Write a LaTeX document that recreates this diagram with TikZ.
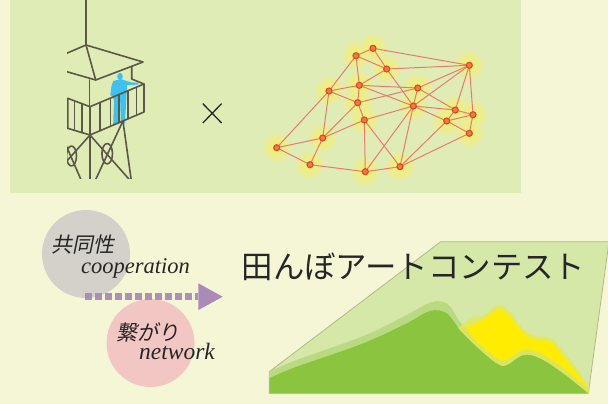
\documentclass[tikz,border=0pt]{standalone}
\usepackage{fontspec}
\setmainfont{Liberation Serif}
\newfontfamily\jpfont{Noto Sans CJK JP}
\newfontfamily\jpslant[FakeSlant=0.2]{Noto Sans CJK JP}
\usetikzlibrary{calc}

\definecolor{paper}{HTML}{F5F6D6}
\definecolor{panel}{HTML}{E0ECB6}
\definecolor{ink}{HTML}{5B5849}
\definecolor{watcher}{HTML}{3EC1EC}
\definecolor{glowc}{HTML}{E9EC98}
\definecolor{glowin}{HTML}{EDEE84}
\definecolor{linkc}{HTML}{E97B6E}
\definecolor{dotfill}{HTML}{F27F2F}
\definecolor{dotring}{HTML}{E0452A}
\definecolor{coopc}{HTML}{D4D1CB}
\definecolor{netc}{HTML}{F2C6C2}
\definecolor{flowc}{HTML}{A98BB6}
\definecolor{fieldc}{HTML}{D5E8A8}
\definecolor{fieldedge}{HTML}{B7B58E}
\definecolor{bandc}{HTML}{B9D983}
\definecolor{grassc}{HTML}{8BC53F}
\definecolor{riceyel}{HTML}{FFEC00}
\definecolor{halo}{HTML}{E6EA4E}
\definecolor{textc}{HTML}{262626}

\tikzset{
  towerline/.style={draw=ink, line width=1.6pt, line cap=round, line join=round},
  link/.style={draw=linkc, line width=1pt},
  hub/.style={circle, fill=dotfill, draw=dotring, line width=1.1pt, minimum size=6pt, inner sep=0pt},
  label/.style={anchor=base west, inner sep=0pt, text=textc},
}

\begin{document}
\begin{tikzpicture}[x=1pt,y=-1pt]
\useasboundingbox (0,0) rectangle (608,404);
\fill[paper] (0,0) rectangle (608,404);
\fill[panel] (10,0) rectangle (521,193);

% ---------------- watch tower ----------------
\begin{scope}
\clip (67,0) rectangle (170,178.5);
% person on the balcony
\fill[watcher] (120,76.5) ellipse (2.8pt and 3.6pt);
\fill[watcher] (119,79.5) -- (122,79.5) -- (126.5,81) -- (131,82.3) -- (138.3,82.8)
  -- (138.3,84.6) -- (130,85) -- (127,84.8) -- (126.3,99) -- (125,123.5)
  -- (120.8,123.5) -- (120.3,103) -- (118.8,103) -- (117.8,124) -- (113.2,124)
  -- (114,100) -- (112,96.5) -- (110.3,95) -- (111.5,86) -- (113.3,81) -- cycle;
% mast and roof
\draw[towerline] (86,0) -- (86,45);
\draw[towerline] (55,58.3) -- (86,45) -- (143,62) -- (95.7,80) -- (55,68.3);
\draw[towerline] (86,45) -- (95.7,80);
\draw[towerline] (89.3,80) -- (89.3,107);
\draw[towerline] (131.7,66.7) -- (131.7,79) -- (144,84);
% balcony corners
\coordinate (lt) at (67.7,98.3);
\coordinate (ft) at (90,106.7);
\coordinate (rt) at (144,84);
\coordinate (lb) at (67.7,128.3);
\coordinate (fb) at (90,135);
\coordinate (rb) at (144,112);
\draw[towerline] (lt) -- (ft) -- (rt) -- (rb) -- (fb) -- (lb) -- cycle;
\draw[towerline] (ft) -- (fb);
\foreach \t in {0.30,0.65}
  \draw[towerline] ($(lt)!\t!(ft)$) -- ($(lb)!\t!(fb)$);
\foreach \t in {0.19,0.38,0.54,0.70,0.86}
  \draw[towerline] ($(ft)!\t!(rt)$) -- ($(fb)!\t!(rb)$);
% legs and bracing
\coordinate (rc) at ($(fb)!0.61!(rb)$);
\draw[towerline] (fb) -- (90,182);
\draw[towerline] (fb) -- (131.5,182);
\draw[towerline] (fb) -- (58,171);
\draw[towerline] (rc) -- (131.5,182);
\draw[towerline] (rc) -- (94.5,182);
\draw[towerline] (62,136) -- (82,182);
\draw[towerline] (71.5,156) ellipse (5pt and 10pt);
\draw[towerline] (107.2,153.7) ellipse (5.3pt and 10.2pt);
\end{scope}

% ---------------- times sign ----------------
\draw[draw=textc, line width=1.3pt] (202.8,103.6) -- (221.6,123) (221.6,103.6) -- (202.8,123);

% ---------------- network ----------------
\foreach \n/\x/\y in {A/356/55.7, B/373/48.3, C/386.7/69, D/469.3/65.3, E/329/91,
  F/359.3/85.3, G/417.7/88, H/357.7/102.7, I/413.3/106, J/455.3/110, K/473/114.7,
  L/446.7/121, M/364.3/120, N/469.3/133.3, O/322.7/138, P/276.7/147.7,
  Q/310/164.7, R/365.3/171.7, S/400/166.7}
  \coordinate (\n) at (\x,\y);
\foreach \n in {A,B,C,D,E,F,G,H,I,J,K,L,M,N,O,P,Q,R,S}
  \fill[glowc] (\n) circle (13.5pt);
\foreach \n in {A,B,C,D,E,F,G,H,I,J,K,L,M,N,O,P,Q,R,S}
  \fill[glowin] (\n) circle (9pt);
\foreach \a/\b in {A/B, A/C, B/C, B/D, C/D, A/E, A/F, C/F, C/I, E/F, E/H, E/O, E/P,
  F/G, F/H, F/I, G/D, G/H, G/I, G/J, H/O, H/M, I/D, I/J, I/L, I/M, I/R, I/S,
  D/J, D/K, J/L, J/K, L/K, L/N, K/N, S/N, S/L, M/O, M/R, M/S, R/S, Q/R, Q/O, P/O, P/Q}
  \draw[link] (\a) -- (\b);
\foreach \n in {A,B,C,D,E,F,G,H,I,J,K,L,M,N,O,P,Q,R,S}
  \node[hub] (hub\n) at (\n) {};

% ---------------- rice field ----------------
\coordinate (f1) at (269.3,393.3);
\coordinate (f2) at (269.3,371.7);
\coordinate (f3) at (440.7,241.7);
\coordinate (f4) at (609,241.7);
\coordinate (f5) at (588.3,393.3);
\filldraw[fill=fieldc, draw=fieldedge, line width=0.8pt] (f1) -- (f2) -- (f3) -- (f4) -- (f5) -- cycle;
% pale back ridge
\fill[bandc] (f1) -- plot[smooth, tension=0.6] coordinates {(269.3,371.7) (296.7,360) (363.3,336) (406.7,315)
  (432,302) (448.3,304.5) (460,322) (476.7,339) (496.7,356) (506.7,358) (523.3,348) (540,351)
  (563.3,366) (588.3,388)} -- (f5) -- cycle;
% main green hill
\fill[grassc] (f1) -- plot[smooth, tension=0.6] coordinates {(269.3,378.3) (296.7,366.7) (363.3,343.3) (406.7,323.3)
  (430,311) (446.7,313.3) (460,330) (476.7,346.7) (496.7,363.3) (506.7,365) (523.3,355)
  (540,358.3) (563.3,373.3) (588.3,393.3)} -- cycle;
% yellow glow around the golden patch
\fill[halo, opacity=0.75] plot[smooth, tension=0.6] coordinates {(458,328) (470,319) (483.3,315.5) (496.7,306)
  (508,309.5) (523.3,329) (536.7,336) (551,338) (565,353) (578,370) (589,388) (588.3,393.3)}
  -- plot[smooth, tension=0.6] coordinates {(588.3,393.3) (563.3,373.3) (540,358.3) (523.3,355)
  (506.7,365) (496.7,363.3) (476.7,346.7) (460,330)} -- cycle;
% golden patch
\fill[riceyel] plot[smooth, tension=0.6] coordinates {(466,328) (483.3,320) (496.7,310.5) (506.7,313.5)
  (523.3,333.3) (536.7,340) (550,341.7) (563.3,356.7) (576.7,373.3) (588.3,389)}
  -- plot[smooth, tension=0.6] coordinates {(588.3,389) (563.3,368) (540,353) (523.3,349.5)
  (506.7,359.5) (496.7,358) (476.7,341) (466,328)} -- cycle;

% ---------------- concepts ----------------
\node[circle, fill=coopc, minimum size=88pt, inner sep=0pt] (coop) at (86,254) {};
\node[circle, fill=netc, minimum size=88pt, inner sep=0pt] (net) at (150.5,343) {};

\coordinate (flowstart) at (85,296.7);
\coordinate (flowend) at (198,296.7);
\draw[draw=flowc, line width=7pt, dash pattern=on 6.6pt off 3.4pt, opacity=0.95] (flowstart) -- (flowend);
\fill[flowc] (flowend) ++(0.3,-13.4) -- ++(0,26.8) -- (222.7,296.7) -- cycle;

\node[label, font=\jpslant\fontsize{21}{21}\selectfont] (coopjp) at (51.5,252) {共同性};
\node[label, font=\itshape\fontsize{22.5}{23}\selectfont] (coopen) at (81,273) {cooperation};
\node[label, font=\jpslant\fontsize{21}{21}\selectfont] (netjp) at (116.5,340.5) {繋がり};
\node[label, font=\itshape\fontsize{23.5}{24}\selectfont] (neten) at (139,359.3) {network};

\node[label, font=\jpfont\fontsize{31.4}{32}\selectfont] (title) at (241.5,278) {田んぼアートコンテスト};
\end{tikzpicture}
\end{document}
